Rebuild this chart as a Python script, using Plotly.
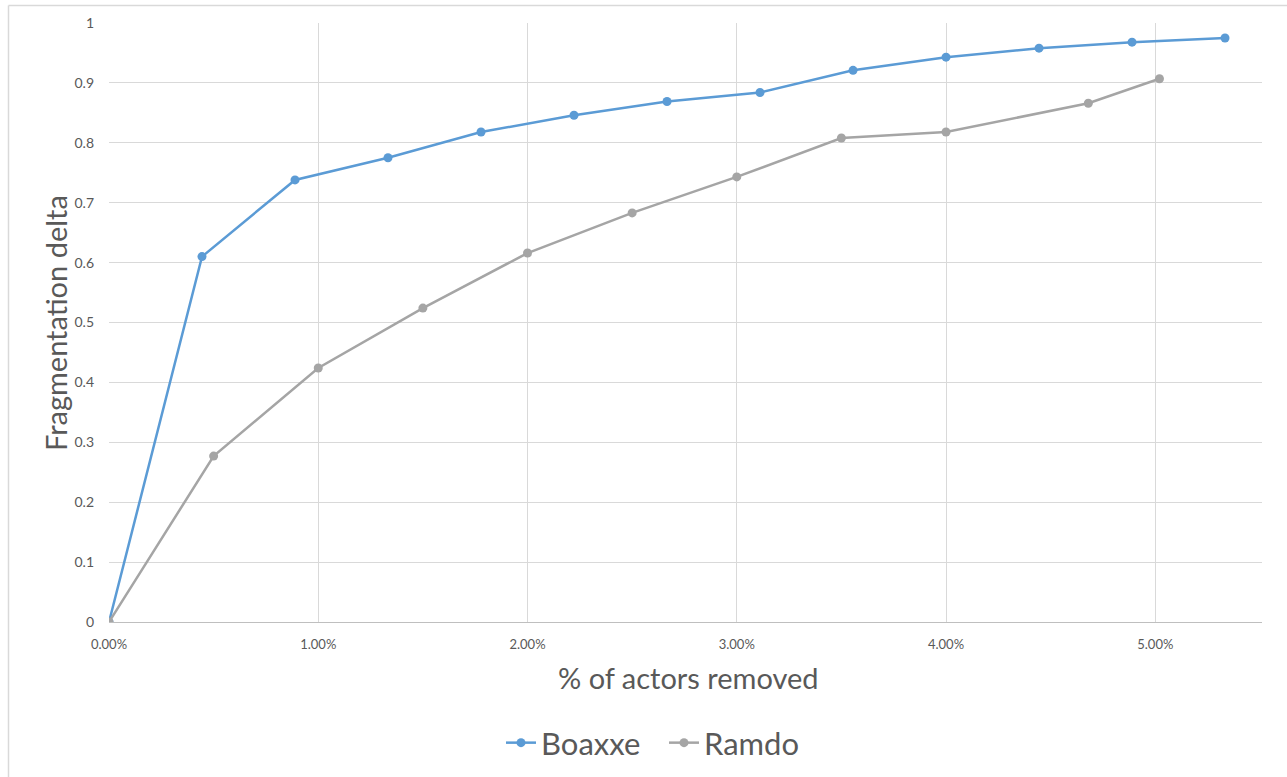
import plotly.graph_objects as go

# Data
boaxxe_x = [0, 0.004444, 0.008889, 0.013333, 0.017778, 0.022222, 0.026667,
            0.031111, 0.035556, 0.04, 0.044444, 0.048889, 0.053333]
boaxxe_y = [0, 0.610, 0.738, 0.775, 0.818, 0.846, 0.869, 0.884, 0.921,
            0.943, 0.958, 0.968, 0.975]
ramdo_x = [0, 0.005, 0.01, 0.015, 0.02, 0.025, 0.03, 0.035, 0.04, 0.0468, 0.0502]
ramdo_y = [0, 0.277, 0.424, 0.524, 0.616, 0.683, 0.743, 0.808, 0.818, 0.866, 0.907]
y_ticks = [0, 0.1, 0.2, 0.3, 0.4, 0.5, 0.6, 0.7, 0.8, 0.9, 1]
y_ticklabels = ["0", "0.1", "0.2", "0.3", "0.4", "0.5", "0.6", "0.7", "0.8", "0.9", "1"]
x_ticks = [0, 0.01, 0.02, 0.03, 0.04, 0.05]
x_ticklabels = ["0.00%", "1.00%", "2.00%", "3.00%", "4.00%", "5.00%"]

FONT = "Lato, 'Open Sans', sans-serif"
BLUE = "#5B9BD5"
GRAY = "#A5A5A5"
TXT = "#595959"
BORDER = "#D9D9D9"

fig = go.Figure()
fig.add_trace(go.Scatter(x=boaxxe_x, y=boaxxe_y, name="Boaxxe", mode="lines+markers",
                         line=dict(color=BLUE, width=2.5),
                         marker=dict(color=BLUE, size=9)))
fig.add_trace(go.Scatter(x=ramdo_x, y=ramdo_y, name="Ramdo", mode="lines+markers",
                         line=dict(color=GRAY, width=2.5),
                         marker=dict(color=GRAY, size=9)))

FW, FH = 1287, 777
PW, PH = 1153, 599  # plot area size in px (x 109..1262, y 23..622)
fig.update_layout(
    width=FW, height=FH,
    margin=dict(l=109, r=25, t=23, b=155, autoexpand=False),
    paper_bgcolor="white", plot_bgcolor="white",
    font=dict(family=FONT, color=TXT),
    showlegend=True,
    legend=dict(orientation="h", xref="container", yref="container",
                x=664 / FW, y=(FH - 743) / FH,
                xanchor="center", yanchor="middle",
                font=dict(size=31, color=TXT), itemwidth=30, entrywidth=118,
                bgcolor="rgba(0,0,0,0)"),
    xaxis=dict(range=[0, 0.0551], tickvals=x_ticks, ticktext=x_ticklabels,
               showgrid=True, gridcolor="#D9D9D9", gridwidth=1,
               zeroline=False, showline=True, linecolor="#BFBFBF", linewidth=1,
               ticks="", tickfont=dict(size=13, color=TXT), ticklabelstandoff=10),
    yaxis=dict(range=[0, 1], tickvals=y_ticks, ticktext=y_ticklabels,
               showgrid=True, gridcolor="#D9D9D9", gridwidth=1,
               zeroline=False, showline=False, ticks="",
               tickfont=dict(size=14, color=TXT), ticklabelstandoff=14),
    annotations=[
        dict(text="% of actors removed", xref="paper", yref="paper",
             x=(688 - 109) / PW, y=(622 - 677) / PH, xanchor="center", yanchor="middle",
             showarrow=False, font=dict(size=29, color=TXT)),
        dict(text="Fragmentation delta", xref="paper", yref="paper",
             x=(55 - 109) / PW, y=(622 - 323) / PH, xanchor="center", yanchor="middle",
             textangle=-90, showarrow=False, font=dict(size=29, color=TXT)),
    ],
    shapes=[
        dict(type="line", xref="paper", yref="paper",
             x0=(8.5 - 109) / PW, x1=(1300 - 109) / PW,
             y0=(622 - 5.5) / PH, y1=(622 - 5.5) / PH,
             line=dict(color=BORDER, width=1.5), layer="below"),
        dict(type="line", xref="paper", yref="paper",
             x0=(8.5 - 109) / PW, x1=(8.5 - 109) / PW,
             y0=(622 - 5.5) / PH, y1=(622 - 800) / PH,
             line=dict(color=BORDER, width=1.5), layer="below"),
    ],
)

fig.write_html("out.html", config={"displayModeBar": False},
               post_script="document.body.style.margin='0';document.body.style.overflow='hidden';")
